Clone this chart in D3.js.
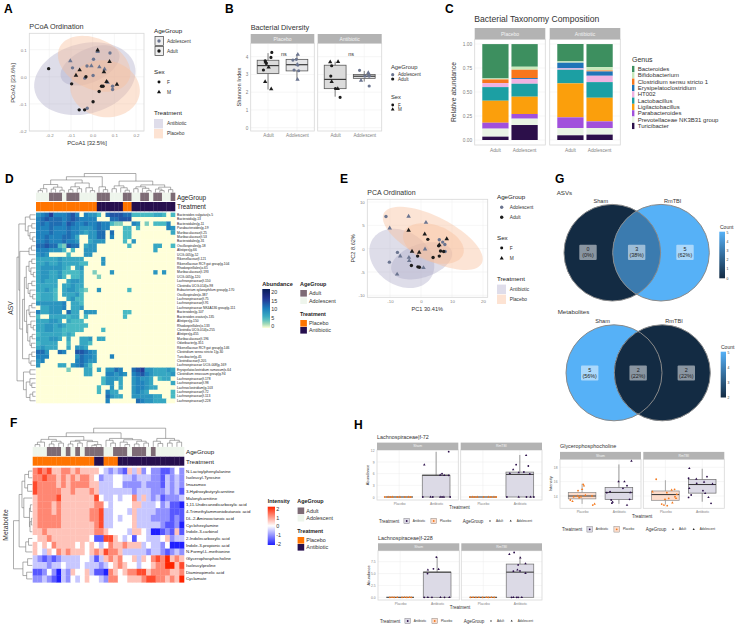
<!DOCTYPE html>
<html>
<head>
<meta charset="utf-8">
<script src="https://cdn.jsdelivr.net/npm/d3@7"></script>
<style>
  html, body { margin: 0; padding: 0; background: #fff; }
  svg { display: block; }
  text { font-family: "Liberation Sans", Arial, sans-serif; }
</style>
</head>
<body>
<div id="content"></div>
<script>
// ---- A: PCoA, values [x, y]
var pcoaAdultF = [[-.203,.03],[-.097,-.026],[-.031,0],[.03,-.054],[.041,-.035],[.048,-.035],[.002,-.092],[-.062,-.122],[-.037,-.122]];
var pcoaAdultM = [[-.06,.025],[-.077,.005],[.023,.098],[.078,.056],[.052,.018],[.064,-.018],[.112,-.028]];
var pcoaAdoF = [[-.093,.033],[-.026,.04],[.004,.065],[.08,.088],[.002,.005],[-.036,-.005],[-.025,-.116],[.092,-.035],[.092,-.047]];
var pcoaAdoM = [[-.103,.059],[-.006,.04],[.023,.093],[.031,.036],[.055,.028],[.069,-.021]];
// ellipses: centre x, y, then the two semi axis vectors
var pcoaEllipseAb = [[-.036,-.007,.230,.049,.042,-.125],[-.012,.042,.132,.049,.0325,-.056]];
var pcoaEllipsePl = [[.007,.048,.160,-.060,-.049,-.084],[.057,-.044,.159,-.022,-.023,-.103]];

// ---- B: Shannon index
var shannonCats = ['Adult','Adolescent'];
var shannonPlacebo = [[3.05,3.5,3.8,2.15,4.2],[3.2,3.55,3.85,2.7,4.15]]; // q1 med q3 low high
var shannonAntibiotic = [[2.2,2.72,3.52,1.75,3.72],[2.78,2.9,3.0,2.6,3.2]];
var bPlAdultF = [[1.13,4.24],[1.10,3.96],[.90,3.77],[.94,3.62],[.84,3.25]];
var bPlAdultM = [[.90,2.59],[1.11,2.18],[1.02,3.4],[.92,3.7]];
var bPlAdoF = [[1.86,3.81],[1.98,3.85],[1.9,3.25],[2.06,3.21],[2.03,3.53]];
var bPlAdoM = [[2.03,4.13],[2.02,2.72],[2.01,3.56]];
var bAbAdultF = [[.88,3.49],[.85,2.91],[1.01,2.21],[1.17,1.71]];
var bAbAdultM = [[.83,3.7],[1.1,3.71],[.88,2.59],[1.09,2.2]];
var bAbAdoF = [[1.84,3.23],[2.17,2.91],[2.17,2.35],[2.02,2.91]];
var bAbAdoM = [[1.89,2.66],[2.14,3.1],[2.16,2.96]];

// ---- C: genus composition, same order as the legend
var genera = ['Bacteroides','Bifidobacterium','Clostridium sensu stricto 1','Erysipelatoclostridium','HT002','Lactobacillus','Ligilactobacillus','Parabacteroides','Prevotellaceae NK3B31 group','Turicibacter'];
var genusColors = ['#3d8f5f','#c8e9bb','#f8761c','#1f74b8','#efb2e2','#1c9fa3','#fb9f0c','#a150dc','#e9f4e5','#2c0f4a'];
var placeboAdult = [.358,.01,.038,0,.042,.142,.229,.062,.083,.035];
var placeboAdolescent = [.236,.031,.087,.01,.049,.135,.18,.049,.066,.156];
var antibioticAdult = [.181,.014,0,.059,.014,.142,.354,.111,.076,.049];
var antibioticAdolescent = [.24,.035,.01,.045,.066,.163,.246,.069,.069,.056];

// ---- D: ASV heatmap, one digit per cell, abundance is digit x 1.6
var asvLabels = ['Bacteroides vulgatus|s-5','Bacteroidia|g-13','Bacteroidales|g-11','Parabacteroides|g-19','Muribaculaceae|f-25','Muribaculaceae|f-53','Bacteroidales|g-31','Oscillospirales|g-18','Alistipes|g-66','UCG-005|g-52','Rikenellaceae|f-121','Rikenellaceae RC9 gut group|g-104','Rhodospirillales|o-65','Muribaculaceae|f-193','UCG-005|g-120','Lachnospiraceae|f-150','Clostridia UCG-014|o-98','Eubacterium xylanophilum group|g-170','Oscillospirales|o-387','Lachnospiraceae|f-75','Lachnospiraceae|f-91','Lachnospiraceae NK4A136 group|g-111','Bacteroides|g-107','Bacteroides ovatus|s-135','Alistipes|g-150','Rhodospirillales|o-133','Clostridia UCG-014|o-255','Alistipes|g-455','Muribaculaceae|f-196','Odoribacter|g-351','Rikenellaceae RC9 gut group|g-146','Clostridium sensu stricto 1|g-30','Turicibacter|g-45','Clostridiaceae|f-205','Lachnospiraceae UCG-008|g-169','Erysipelatoclostridium ramosum|s-64','Clostridium innocuum group|g-94','Lachnospiraceae|f-178','Lachnospiraceae|f-98','Lachnoclostridium|g-103','Lachnospiraceae|f-72','Lachnospiraceae|f-113','Lachnospiraceae|f-228'];
var asvRows = [
'56796667860655307888773333344303',
'6787776787666600077888',
'67677768766766766322006502033360',
'66676667665556766000330300000065',
'66676667665455770700330000000004',
'6676667764005577060033',
'66766676650045550000305',
'77877328770455000000030000044003',
'66655530300555000000000000040000',
'56500003000550000000000000000000',
'444445444440000500000000',
'4454454444330005',
'45555543045',
'45544533334002000500000000050500',
'45544530334000200000',
'45444004554',
'44444044544',
'44543045543200500000030',
'34443044453',
'34443004533',
'55555560443',
'04455560445',
'64455507440555000000330',
'30044443440300000000300',
'44455404333',
'445545433333',
'44554433333000030',
'344444343',
'4445540400445044',
'3444400300443',
'454440040554',
'77500760088765',
'666000000576650006',
'56000000067655',
'5000044056753',
'00000002000440405576007895544454',
'00000000000440006656506786544445',
'00000000000000035554005655403440',
'00000000000000035504005665400004',
'00000000000000300504005665440000',
'00000000000000306440005654000003',
'00000000000000007544005555544003',
'00000000000000006000000765544400'
];
var asvAge = [0,0,0,1,1,1,0,1,1,1,0,0,0,0,1,1,1,0,0,0,1,1,0,0,1,1,0,1,1,0,0,1]; // 1 = Adult
var asvTreat = [0,0,0,0,0,0,0,0,0,0,0,0,0,0,1,1,1,1,1,1,0,0,1,1,1,1,1,1,1,1,1,1]; // 1 = Antibiotic
var asvColTree = [1,[.83,[.66,[.42,[.2,[.1,0,0],0],[.28,[.18,0,0],[.12,0,0]]],[.5,[.3,[.15,0,0],[.2,0,0]],[.25,0,[.1,0,0]]]],[.3,0,[.15,0,0]]],
  [.6,[.35,[.2,0,0],[.25,0,[.12,0,0]]],[.4,[.3,[.2,0,0],[.22,0,[.1,0,0]]],[.28,[.18,0,[.1,0,0]],[.15,0,0]]]]];
var asvRowTree = [1,[.9,[.55,[.3,0,0],[.4,[.2,0,0],[.3,0,[.15,0,0]]]],
   [.85,[.35,[.22,0,0],0],[.7,[.6,[.5,[.35,[.2,0,0],[.25,0,[.12,0,0]]],[.4,[.2,0,0],[.3,0,[.15,0,0]]]],
     [.48,[.35,[.2,0,0],[.3,0,0]],[.42,[.25,0,[.12,0,0]],[.3,[.18,0,0],[.22,0,0]]]]],[.35,[.2,0,0],[.25,0,0]]]]],
  [.65,[.3,0,0],[.5,[.3,0,[.2,0,0]],[.3,[.15,0,0],0]]]];
var abundanceTicks = [0,5,10,15,20];

// ---- E: PCA
var pcaAdultF = [[2.2,2],[5.7,.6],[6.3,-.5],[7.3,-.6],[3.9,-1.9],[5.9,-1.6],[-1.1,-1.6],[-3.1,-3.6],[-1,-3.9],[-.5,-4]];
var pcaAdultM = [[-4,3.9],[1.2,3.1],[8.3,2.1],[-2.9,-.6],[-.6,-.8],[5.9,.8]];
var pcaAdoF = [[-11.3,6.9],[-7.6,-.8],[-10.2,-2.9],[5.9,1.9],[7,1.4],[7.7,.9],[7.8,-.6]];
var pcaAdoM = [[-4,6.9],[1.6,5.6],[-10.1,4.4],[-6.7,-1.6],[-3.9,-1.9],[-3.8,-2.6],[-7.7,-5.5],[.8,-4.1],[1.3,-.1]];
var pcaEllipseAb = [[-6.2,-2.1,9.25,-4.3,-4.94,-4.68],[.2,-2.6,9.7,2.1,1.66,-3.4]];
var pcaEllipsePl = [[3.8,2.2,15.8,-5.35,-3.17,-4.14],[4,1.1,9.6,-2.32,-2.02,-3.69]];

// ---- F: metabolite heatmap, digit 4 = 0
var metaboliteLabels = ['N-Lactoylphenylalanine','Isoleucyl-Tyrosine','Imazamox','3-Hydroxybutyrylcarnitine','Malonylcarnitine','1,11-Undecanedicarboxylic acid','4-Trimethylammoniobutanoic acid','DL-2-Aminooctanoic acid','Cyclohexylamine','Indole-3-carbinol','2-Indolecarboxylic acid','Indole-3-propionic acid','N-Formyl-L-methionine','Glycerophosphocholine','Isoleucylproline','Diaminopimelic acid','Cyclamate'];
var metaboliteRows = [
'67675566'+'56555543'+'23215352'+'42211242',
'66766565'+'65665423'+'34433233'+'32213232',
'76666565'+'66665533'+'34422223'+'22213232',
'76666655'+'65556533'+'33333233'+'32223231',
'56666755'+'55555743'+'34344635'+'32312223',
'56665655'+'55555664'+'34444553'+'33423110',
'56665655'+'55556673'+'34443533'+'33222111',
'56666655'+'55556673'+'34344533'+'32222121',
'56666655'+'55555673'+'34444533'+'33321120',
'55655555'+'55555665'+'44443554'+'30012151',
'45565555'+'55554117'+'75434144'+'33345233',
'54546555'+'54545434'+'65565553'+'43324000',
'54354656'+'55545657'+'66533333'+'23321232',
'32121233'+'33443135'+'65644535'+'46768565',
'33323343'+'33433323'+'45654434'+'45668857',
'11242032'+'54453110'+'65456677'+'56666556',
'22321032'+'43454432'+'66445556'+'77665658'
];
var metAge = [0,0,0,1,1,1,0,1,0,1,0,1,1,1,1,0,0,1,1,1,0,1,1,1,0,1,0,0,0,0,0,0];
var metTreat = [0,0,0,0,0,0,0,0,0,0,0,0,0,1,1,0,0,0,1,1,1,1,1,1,1,1,1,1,1,1,1,1];
var metColTree = [1,[.75,[.55,[.4,[.25,[.12,0,0],0],[.3,[.15,0,0],[.2,0,0]]],[.35,[.3,[.15,0,0],[.2,0,0]],[.28,0,[.12,[.08,0,0],0]]]],
   [.45,[.35,0,[.2,0,0]],[.38,[.25,0,[.12,0,0]],[.3,[.15,0,0],[.2,0,0]]]]],
  [.45,[.3,0,[.18,0,0]],[.35,[.2,0,0],[.25,0,0]]]];
var metRowTree = [1,[.7,[.55,[.4,[.2,0,0],[.25,0,0]],[.45,0,[.15,[.1,0,0],[.12,[.05,0,0],0]]]],[.35,[.2,0,0],0]],[.5,[.25,0,0],[.3,0,0]]];
var intensityTicks = [-2,-1,0,1,2];

// ---- G: venn counts [Sham only, shared, RmTBI only]
var vennSets = ['Sham','RmTBI'];
var asvCounts = [0,3,5];
var asvPercents = ['0%','38%','62%'];
var metCounts = [5,2,2];
var metPercents = ['56%','22%','22%'];

// ---- H: box stats q1 med q3 low high, then points [x, y]
var hCats = ['Placebo','Antibiotic'];
var f72Sham = [[0,0,0,0,0],[0,5.6,5.6,0,11.6]];
var f72Rm = [[0,0,0,0,0],[0,5.8,6.4,0,10.8]];
var f72ShamPl = [.61,.7,.76,.82,.95,1.02,1.15,1.25,1.31];
var f72RmPl = [.65,.72,.78,.85,1.02,1.15,1.22,1.3,1.36];
var f72ShamAb = [[1.64,0],[1.85,0],[1.91,0],[2.11,0],[2.16,0],[2.21,0],[2.38,0],[1.68,8.3],[2.34,11.65],[2.11,5.66],[2.16,6],[2.22,5.57],[2.34,5.57]];
var f72RmAb = [[1.65,0],[1.97,0],[2.18,0],[2.29,0],[2.38,0],[1.82,7.03],[1.9,8.31],[1.97,6.26],[2.11,6.43],[2.17,10.7],[2.23,7.97],[1.73,6.08],[2.27,5.91]];
var f228Sham = [[0,0,0,0,0],[0,5.3,5.3,0,8.5]];
var f228Rm = [[0,0,0,0,0],[0,5.3,7,0,8.6]];
var f228ShamPl = [.72,.78,.84,.92,1.05,1.12,1.18,1.25,1.3];
var f228RmPl = [.65,.72,.8,.88,.98,1.08,1.14,1.22,1.3];
var f228ShamAb = [[1.65,0],[1.75,0],[1.86,0],[2.09,0],[2.2,0],[2.33,0],[1.74,5],[1.75,5.77],[1.9,5.99],[2.04,5.92],[1.98,8.45]];
var f228RmAb = [[1.77,0],[1.82,0],[1.91,0],[2.05,0],[1.95,0],[1.71,9.08],[1.84,9.44],[2.01,8.31],[1.95,6.83],[2.15,7.11],[1.82,5.5],[1.93,5.77],[2,5.56],[2.15,5.07]];
var gpcSham = [[13.6,14,14.5,12.9,15.7],[13.5,14.5,15.2,12.9,18.4]];
var gpcRm = [[13.4,14.2,14.7,12.8,16.2],[14.4,15.6,16.3,13.2,17.8]];
var gpcShamPl = [[.68,13.44],[.74,13.26],[.77,13.9],[.88,14],[.89,14.74],[1,14.93],[1.03,15.63],[1.05,15.44],[.92,13.77],[.97,13.9],[1.27,14],[1.34,12.88],[1.29,12.74],[1.09,14.1]];
var gpcShamAb = [[1.79,13.44],[1.83,13.16],[1.76,14.6],[1.99,16],[2.11,15.07],[2.15,16],[2.22,15.44],[2.34,18.88],[2.29,13.53],[2.22,12.74],[1.67,14.47],[2.31,14.47],[1.81,13]];
var gpcRmPl = [[.75,16.33],[.65,14.6],[.9,12.88],[.96,12.74],[1.05,12.65],[.99,13.53],[1.09,13.67],[1.19,13.07],[1.25,14.93],[1.17,14.84],[1.26,13.9],[1.31,14.23],[1.04,14.47],[1.29,13.67]];
var gpcRmAb = [[1.63,13.8],[1.65,17.86],[1.63,16.47],[1.65,15.07],[1.7,14.14],[1.84,16.37],[1.85,15.77],[2.05,15.95],[2.02,14.74],[2.08,14.37],[2.13,16.7],[2.17,13.81],[2.24,12.98],[2.28,15.67]];

// ---- colours
var adultCol = '#1c1c1c', adoCol = '#6b7590';
var abFill = '#a9a5c4', plFill = '#f8bf9c';
var ageHeat = ['#eef5ec','#7d6b75'], treatHeat = ['#ff7400','#260f4e'];
var stripGray = '#b3b3b3', gridCol = '#ececec', borderCol = '#d8d8d8', tickCol = '#7f7f7f';

var svg = d3.select('#content').append('svg').attr('width', 737).attr('height', 627);
var defs = svg.append('defs');

function txt(x, y, s, size, o) {
  o = o || {};
  var t = svg.append('text').attr('x', x).attr('y', y).text(s)
    .attr('font-size', size).attr('fill', o.fill || '#222')
    .attr('dominant-baseline', 'central')
    .attr('text-anchor', o.anchor || 'start');
  if (o.bold) t.attr('font-weight', 'bold');
  if (o.rot) t.attr('transform', 'rotate(-90 ' + x + ' ' + y + ')');
  return t;
}
function sym(x, y, sex, col, size) {
  svg.append('path').attr('d', d3.symbol(sex ? d3.symbolTriangle : d3.symbolCircle, size)())
    .attr('transform', 'translate(' + x + ',' + y + ')').attr('fill', col);
}
function fmtTick(f) { return function(d) { return d3.format(f)(d).replace('\u2212', '-'); }; }
// stretch a scale so that it runs out to the panel edges
function toPanel(scale, a, b) {
  var d = [scale.invert(a), scale.invert(b)];
  return scale.domain(d).range([a, b]);
}

// panel background, grid lines and the two axes
function panel(x, y, xTicks, yTicks, xFmt, yFmt, fs) {
  var g = svg.append('g');
  var xr = x.range(), yr = y.range();
  yTicks.forEach(function(t) { g.append('line').attr('x1', xr[0]).attr('x2', xr[1]).attr('y1', y(t)).attr('y2', y(t)).attr('stroke', gridCol).attr('stroke-width', .5); });
  xTicks.forEach(function(t) { g.append('line').attr('y1', yr[0]).attr('y2', yr[1]).attr('x1', x(t)).attr('x2', x(t)).attr('stroke', gridCol).attr('stroke-width', .5); });
  g.append('rect').attr('x', xr[0]).attr('y', yr[1]).attr('width', xr[1] - xr[0]).attr('height', yr[0] - yr[1])
    .attr('fill', 'none').attr('stroke', borderCol).attr('stroke-width', .8);
  var ax = svg.append('g').attr('transform', 'translate(0,' + yr[0] + ')')
    .call(d3.axisBottom(x).tickValues(xTicks).tickSize(0).tickPadding(2.5).tickFormat(xFmt));
  var ay = svg.append('g').attr('transform', 'translate(' + xr[0] + ',0)')
    .call(d3.axisLeft(y).tickValues(yTicks).tickSize(0).tickPadding(2.5).tickFormat(yFmt));
  [ax, ay].forEach(function(a, i) {
    a.select('.domain').remove();
    a.selectAll('text').attr('font-size', fs).attr('fill', tickCol).attr('font-family', '"Liberation Sans"');
    if (i == 1 && yFmt === null) a.selectAll('text').remove();
  });
}
function strip(x0, x1, y0, y1, s, fs) {
  svg.append('rect').attr('x', x0).attr('y', y0).attr('width', x1 - x0).attr('height', y1 - y0).attr('fill', stripGray);
  txt((x0 + x1) / 2, (y0 + y1) / 2, s, fs, { fill: '#f4f4f4', anchor: 'middle' });
}
function ellipse(x, y, e, fill, op) {
  var line = d3.line().x(function(t) { return x(e[0] + e[2] * Math.cos(t) + e[4] * Math.sin(t)); })
    .y(function(t) { return y(e[1] + e[3] * Math.cos(t) + e[5] * Math.sin(t)); }).curve(d3.curveLinearClosed);
  svg.append('path').attr('d', line(d3.range(0, 6.28, .08))).attr('fill', fill).attr('fill-opacity', op);
}
function dots(pts, x, y, sex, col, size) {
  pts.forEach(function(p) { sym(x(p[0]), y(p[1]), sex, col, size); });
}
function box(x, y, cat, s, fill, stroke, sw) {
  var w = .375;
  svg.append('line').attr('x1', x(cat)).attr('x2', x(cat)).attr('y1', y(s[3])).attr('y2', y(s[4])).attr('stroke', stroke).attr('stroke-width', sw);
  svg.append('rect').attr('x', x(cat - w)).attr('width', x(cat + w) - x(cat - w)).attr('y', y(s[2])).attr('height', y(s[0]) - y(s[2]))
    .attr('fill', fill).attr('stroke', stroke).attr('stroke-width', sw);
  svg.append('line').attr('x1', x(cat - w)).attr('x2', x(cat + w)).attr('y1', y(s[1])).attr('y2', y(s[1])).attr('stroke', '#3a3a3a').attr('stroke-width', sw * 1.5);
}
// ordination legend shared by A and E
function ordLegend(x, xKey, xText, ys, framed) {
  txt(x, ys[0], 'AgeGroup', 6.2);
  [[ys[1], 'Adolescent', adoCol], [ys[2], 'Adult', adultCol]].forEach(function(r) {
    if (framed) svg.append('rect').attr('x', xKey - 4).attr('y', r[0] - 4.5).attr('width', 8.4).attr('height', 9).attr('fill', '#eee').attr('stroke', '#444').attr('stroke-width', .7);
    sym(xKey, r[0], 0, r[2], 9);
    txt(xText, r[0], r[1], 4.8, { fill: '#333' });
  });
  txt(x, ys[3], 'Sex', 6.2);
  sym(xKey, ys[4], 0, '#111', 7); txt(xText, ys[4], 'F', 4.8, { fill: '#333' });
  sym(xKey, ys[5], 1, '#111', 7); txt(xText, ys[5], 'M', 4.8, { fill: '#333' });
  txt(x, ys[6], 'Treatment', 6.2);
  [[ys[7], 'Antibiotic', '#dfddea'], [ys[8], 'Placebo', '#fde3d3']].forEach(function(r) {
    svg.append('rect').attr('x', x).attr('y', r[0] - 4.7).attr('width', 9).attr('height', 9.4).attr('fill', r[2]);
    txt(xText, r[0], r[1], 4.8, { fill: '#333' });
  });
}
// dendrogram from nested [height, left, right]; 0 is a leaf
function dendro(tree, band, level, horizontal) {
  var root = d3.hierarchy(tree, function(d) { return Array.isArray(d) ? d.slice(1) : null; });
  root.leaves().forEach(function(l, i) { l.pos = band(i) + band.bandwidth() / 2; });
  root.eachAfter(function(n) {
    if (n.children) {
      n.pos = (n.children[0].pos + n.children[1].pos) / 2;
      n.h = n.data[0];
    } else n.h = 0;
  });
  var pathD = '';
  function pt(p, h) { return horizontal ? level(h) + ',' + p : p + ',' + level(h); }
  root.descendants().forEach(function(n) {
    if (!n.children) return;
    var a = n.children[0], b = n.children[1];
    pathD += 'M' + pt(a.pos, a.h) + 'L' + pt(a.pos, n.h) + 'L' + pt(b.pos, n.h) + 'L' + pt(b.pos, b.h);
  });
  svg.append('path').attr('d', pathD).attr('fill', 'none').attr('stroke', '#6a6a6a').attr('stroke-width', .55);
}
function heatmap(rows, x, y, color, val) {
  rows.forEach(function(r, i) {
    r.padEnd(x.domain().length, '0').split('').slice(0, x.domain().length).forEach(function(c, j) {
      svg.append('rect').attr('x', x(j)).attr('y', y(i)).attr('width', x.bandwidth() + .3).attr('height', y.bandwidth() + .3)
        .attr('fill', color(val(+c)));
    });
  });
}
function annot(vals, x, y0, y1, cols) {
  vals.forEach(function(v, j) {
    svg.append('rect').attr('x', x(j)).attr('y', y0).attr('width', x.bandwidth() + .3).attr('height', y1 - y0).attr('fill', cols[v]);
  });
}
// vertical colour bar drawn from a scale
function colorbar(id, scale, ticks, x0, x1, y0, y1, tickY, fs, tickX) {
  var lg = defs.append('linearGradient').attr('id', id).attr('x1', 0).attr('x2', 0).attr('y1', 1).attr('y2', 0);
  var dom = d3.extent(scale.domain());
  d3.range(0, 11).forEach(function(i) {
    lg.append('stop').attr('offset', (i * 10) + '%').attr('stop-color', scale(dom[0] + (dom[1] - dom[0]) * i / 10));
  });
  svg.append('rect').attr('x', x0).attr('y', y0).attr('width', x1 - x0).attr('height', y1 - y0).attr('fill', 'url(#' + id + ')');
  var ax = svg.append('g').attr('transform', 'translate(' + tickX + ',0)').call(d3.axisRight(tickY).tickValues(ticks).tickSize(0).tickPadding(0).tickFormat(function(d) { return String(d); }));
  ax.select('.domain').remove();
  ax.selectAll('text').attr('font-size', fs).attr('fill', '#333').attr('font-family', '"Liberation Sans"');
}
function heatLegend(x, titleY, keyYs, treatTitleY, treatYs, fs) {
  txt(x, titleY, 'AgeGroup', fs, { bold: true });
  [['Adult', 1], ['Adolescent', 0]].forEach(function(r, i) {
    svg.append('rect').attr('x', x + .3).attr('y', keyYs[i] - 3.3).attr('width', 6.6).attr('height', 6.6).attr('fill', ageHeat[r[1]]);
    txt(x + 9, keyYs[i], r[0], fs, { fill: '#333' });
  });
  txt(x, treatTitleY, 'Treatment', fs, { bold: true });
  [['Placebo', 0], ['Antibiotic', 1]].forEach(function(r, i) {
    svg.append('rect').attr('x', x + .3).attr('y', treatYs[i] - 3.3).attr('width', 6.6).attr('height', 6.6).attr('fill', treatHeat[r[1]]);
    txt(x + 9, treatYs[i], r[0], fs, { fill: '#333' });
  });
}

// panel letters
[['A',4,9],['B',225,9],['C',445,9],['D',5,179],['E',340,179],['G',555,179],['F',10,423],['H',354,425]].forEach(function(l) {
  txt(l[1], l[2], l[0], 12, { bold: true, fill: '#000' });
});

// ===== A
(function() {
  var x = toPanel(d3.scaleLinear().domain([-.2, .2]).range([49.3, 136]), 29.3, 144);
  var y = toPanel(d3.scaleLinear().domain([-.2, .1]).range([131, 49.7]), 131, 33.3);
  panel(x, y, [-.2,-.1,0,.1,.2], [-.2,-.1,0,.1], fmtTick('.1f'), fmtTick('.1f'), 4.4);
  pcoaEllipseAb.forEach(function(e) { ellipse(x, y, e, abFill, .38); });
  pcoaEllipsePl.forEach(function(e) { ellipse(x, y, e, plFill, .42); });
  dots(pcoaAdoF, x, y, 0, adoCol, 9); dots(pcoaAdoM, x, y, 1, adoCol, 9);
  dots(pcoaAdultF, x, y, 0, adultCol, 9); dots(pcoaAdultM, x, y, 1, adultCol, 9);
  txt(29.3, 26.7, 'PCoA Ordination', 7.3, { fill: '#333' });
  txt(87, 143.3, 'PCoA1  [32.5%]', 5.8, { anchor: 'middle', fill: '#333' });
  txt(13, 83, 'PCoA2  [23.6%]', 5.8, { anchor: 'middle', rot: true, fill: '#333' });
  ordLegend(154, 159, 167, [30.3,41,51,71.7,82,92,112.7,123.7,133.7], true);
})();

// ===== B
(function() {
  var y = toPanel(d3.scaleLinear().domain([0, 4]).range([127.7, 56.7]), 131, 43.3);
  var facets = [[250.7, 314.3, 'Placebo', shannonPlacebo, [bPlAdoF,bPlAdoM,bPlAdultF,bPlAdultM]],
                [317.7, 381.7, 'Antibiotic', shannonAntibiotic, [bAbAdoF,bAbAdoM,bAbAdultF,bAbAdultM]]];
  facets.forEach(function(f, i) {
    var x = d3.scaleLinear().domain([.4, 2.6]).range([f[0], f[1]]);
    panel(x, y, [1, 2], [0,1,2,3,4], function(d) { return shannonCats[d - 1]; }, i ? null : fmtTick('d'), 4.6);
    strip(f[0], f[1], 34, 43.3, f[2], 5);
    box(x, y, 1, f[3][0], '#dbdbdb', '#5a5a5a', .8);
    box(x, y, 2, f[3][1], '#e6e6e8', '#5a5a5a', .8);
    dots(f[4][0], x, y, 0, adoCol, 8); dots(f[4][1], x, y, 1, adoCol, 8);
    dots(f[4][2], x, y, 0, adultCol, 8); dots(f[4][3], x, y, 1, adultCol, 8);
    txt(x(1.55), y(4.17), 'ns', 5.5, { anchor: 'middle', fill: '#333' });
  });
  txt(250.7, 27, 'Bacterial Diversity', 7.3, { fill: '#333' });
  txt(239, 87, 'Shannon Index', 5.8, { anchor: 'middle', rot: true, fill: '#333' });
  txt(391, 66.7, 'AgeGroup', 5.8, { fill: '#333' });
  sym(392.7, 74.7, 0, adoCol, 8); txt(398, 74.7, 'Adolescent', 4.6, { fill: '#333' });
  sym(392.7, 79, 0, adultCol, 8); txt(398, 79, 'Adult', 4.6, { fill: '#333' });
  txt(391, 96.7, 'Sex', 5.8, { fill: '#333' });
  sym(392.7, 105, 0, '#111', 6); txt(398, 105, 'F', 4.6, { fill: '#333' });
  sym(392.7, 109.3, 1, '#111', 6); txt(398, 109.3, 'M', 4.6, { fill: '#333' });
})();

// ===== C
(function() {
  var y = d3.scaleLinear().domain([0, 1]).range([140, 44]);
  var stack = d3.stack().keys(d3.range(genera.length)).order(d3.stackOrderReverse);
  var facets = [[474.7, 545.3, 'Placebo', [placeboAdult, placeboAdolescent]], [549.7, 620.3, 'Antibiotic', [antibioticAdult, antibioticAdolescent]]];
  var y2 = toPanel(y.copy(), 145, 39.3);
  facets.forEach(function(f, i) {
    var x = d3.scaleBand().domain(shannonCats).range([f[0], f[1]]).paddingInner(.1).paddingOuter(.26);
    panel(x, y2, [], [0,.25,.5,.75,1], null, i ? null : fmtTick('.2f'), 4.8);
    stack(f[3]).forEach(function(layer) {
      layer.forEach(function(d, k) {
        svg.append('rect').attr('x', x(shannonCats[k])).attr('width', x.bandwidth())
          .attr('y', y(d[1])).attr('height', y(d[0]) - y(d[1])).attr('fill', genusColors[layer.key]);
      });
    });
    shannonCats.forEach(function(c) { txt(x(c) + x.bandwidth() / 2, 150.7, c, 4.8, { anchor: 'middle', fill: tickCol }); });
    strip(f[0], f[1], 28, 39.3, f[2], 5);
  });
  txt(474.3, 19.3, 'Bacterial Taxonomy Composition', 8.6, { fill: '#333' });
  txt(453.3, 92, 'Relative abundance', 6.8, { anchor: 'middle', rot: true, fill: '#333' });
  txt(632, 59, 'Genus', 7, { fill: '#333' });
  genera.forEach(function(g, i) {
    var yy = 69 + i * 6.33;
    svg.append('rect').attr('x', 632).attr('y', yy - 3.1).attr('width', 2.4).attr('height', 6.2).attr('fill', genusColors[i]);
    txt(637.7, yy, g, 6, { fill: '#333' });
  });
})();

// ===== D
(function() {
  var n = asvRows.length;
  var x = d3.scaleBand().domain(d3.range(32)).range([36, 175]);
  var y = d3.scaleBand().domain(d3.range(n)).range([212.6, 403]);
  var color = d3.scaleLinear().domain([0,1,5,10,15,20]).range(['#ffffd9','#c7e9b4','#41b6c4','#1d7fbc','#253494','#081d58']);
  heatmap(asvRows, x, y, color, function(c) { return c * 1.6; });
  annot(asvAge, x, 192.7, 201, ageHeat);
  annot(asvTreat, x, 202, 211.3, treatHeat);
  dendro(asvColTree, x, d3.scaleLinear().domain([0, 1]).range([192.5, 173.5]), false);
  dendro(asvRowTree, y, d3.scaleLinear().domain([0, 1]).range([35.5, 17]), true);
  asvLabels.forEach(function(l, i) { txt(177, y(i) + y.bandwidth() / 2, l, 3.3, { fill: '#222' }); });
  txt(177, 197.3, 'AgeGroup', 6.4); txt(177, 206.7, 'Treatment', 6.4);
  txt(10, 308, 'ASV', 6.8, { anchor: 'middle', rot: true, fill: '#333' });
  txt(262.3, 284.3, 'Abundance', 5.6, { bold: true });
  colorbar('gradAbund', color, abundanceTicks, 262.3, 270, 289, 328,
    d3.scaleLinear().domain([0, 20]).range([326, 291.7]), 5.4, 271.3);
  heatLegend(300, 284.3, [293.3, 300.7], 313.7, [323.3, 330.3], 5.4);
})();

// ===== E
(function() {
  var x = toPanel(d3.scaleLinear().domain([-10, 20]).range([390, 483]), 367.3, 487.7);
  var y = toPanel(d3.scaleLinear().domain([-10, 10]).range([295.3, 202]), 297.3, 199.3);
  panel(x, y, [-10,0,10,20], [-10,-5,0,5,10], fmtTick('d'), fmtTick('d'), 4.4);
  pcaEllipseAb.forEach(function(e) { ellipse(x, y, e, abFill, .38); });
  pcaEllipsePl.forEach(function(e) { ellipse(x, y, e, plFill, .42); });
  dots(pcaAdoF, x, y, 0, adoCol, 9); dots(pcaAdoM, x, y, 1, adoCol, 9);
  dots(pcaAdultF, x, y, 0, adultCol, 9); dots(pcaAdultM, x, y, 1, adultCol, 9);
  txt(367.3, 192.7, 'PCA Ordination', 7, { fill: '#333' });
  txt(427.3, 309, 'PC1 30.41%', 5.6, { anchor: 'middle', fill: '#333' });
  txt(352.7, 248.3, 'PC2 8.62%', 5.6, { anchor: 'middle', rot: true, fill: '#333' });
  ordLegend(497, 501.7, 509.7, [196.3,207.3,217.3,237.3,248,258.3,278.3,289.3,299.3], false);
})();

// ===== G
function venn(id, cxL, cxR, cy, r, counts, pcts, labelY, titleY) {
  var color = d3.scaleLinear().domain(d3.extent(counts)).range(['#132b43','#56b1f7']);
  defs.append('clipPath').attr('id', id).append('circle').attr('cx', cxL).attr('cy', cy).attr('r', r);
  svg.append('circle').attr('cx', cxL).attr('cy', cy).attr('r', r).attr('fill', color(counts[0]));
  svg.append('circle').attr('cx', cxR).attr('cy', cy).attr('r', r).attr('fill', color(counts[2]));
  svg.append('circle').attr('cx', cxR).attr('cy', cy).attr('r', r).attr('fill', color(counts[1])).attr('clip-path', 'url(#' + id + ')');
  [cxL, cxR].forEach(function(c) {
    svg.append('circle').attr('cx', c).attr('cy', cy).attr('r', r).attr('fill', 'none').attr('stroke', '#8a8a8a').attr('stroke-width', 1);
  });
  vennSets.forEach(function(s, i) { txt([cxL - 11.5, cxR + 11.7][i], titleY, s, 5.6, { anchor: 'middle', fill: '#333' }); });
  var lx = [cxL - 24.3, (cxL + cxR) / 2, cxR + 24];
  counts.forEach(function(c, i) {
    svg.append('rect').attr('x', lx[i] - 8.7).attr('y', labelY - 7.6).attr('width', 17.4).attr('height', 15.2).attr('rx', 1)
      .attr('fill', '#fff').attr('fill-opacity', .5);
    txt(lx[i], labelY - 3, String(c), 5.4, { anchor: 'middle', fill: '#222' });
    txt(lx[i], labelY + 3, '(' + pcts[i] + ')', 5.4, { anchor: 'middle', fill: '#222' });
  });
  return color;
}
(function() {
  var c1 = venn('clipAsv', 612.3, 661, 252.7, 48.3, asvCounts, asvPercents, 252.3, 200.7);
  txt(556.7, 192.3, 'ASVs', 6.2, { fill: '#333' });
  txt(720, 227.3, 'Count', 5, { fill: '#333' });
  colorbar('gradAsv', c1, [0,1,2,3,4,5], 719.3, 725, 231.7, 278.3,
    d3.scaleLinear().domain([0, 5]).range([278, 232]), 3.4, 726.5);
  var c2 = venn('clipMet', 614, 662.3, 372.8, 48, metCounts, metPercents, 373, 320.7);
  txt(557.7, 311.7, 'Metabolites', 6.2, { fill: '#333' });
  txt(721, 346.7, 'Count', 5, { fill: '#333' });
  colorbar('gradMet', c2, [2,3,4,5], 720.7, 726, 351.7, 397.5,
    d3.scaleLinear().domain([2, 5]).range([397, 352]), 3.4, 727.5);
})();

// ===== F
(function() {
  var n = metaboliteRows.length;
  var x = d3.scaleBand().domain(d3.range(32)).range([32.7, 184]);
  var y = d3.scaleBand().domain(d3.range(n)).range([467.7, 582.3]);
  var color = d3.scaleLinear().domain([-2, 0, 2]).range(['#2020ff','#ffffff','#ff2400']).clamp(true);
  heatmap(metaboliteRows, x, y, color, function(c) { return c > 4 ? (c - 4) * .55 : (c - 4) * .5; });
  annot(metAge, x, 447, 456, ageHeat);
  annot(metTreat, x, 456.7, 465.7, treatHeat);
  dendro(metColTree, x, d3.scaleLinear().domain([0, 1]).range([446.8, 428.2]), false);
  dendro(metRowTree, y, d3.scaleLinear().domain([0, 1]).range([32.3, 13.5]), true);
  metaboliteLabels.forEach(function(l, i) { txt(186, y(i) + y.bandwidth() / 2, l, 4.3, { fill: '#222' }); });
  txt(186, 451.7, 'AgeGroup', 6.2); txt(186, 461.3, 'Treatment', 6.2);
  txt(5.7, 525, 'Metabolite', 6.8, { anchor: 'middle', rot: true, fill: '#333' });
  txt(267.7, 501.3, 'Intensity', 5.4, { bold: true });
  colorbar('gradInt', color, intensityTicks, 267.7, 275, 506.7, 545,
    d3.scaleLinear().domain([-2, 2]).range([543.7, 508.7]), 5.4, 276.2);
  heatLegend(297.3, 501.3, [510.8, 518.2], 531, [540.3, 547.3], 5.4);
})();

// ===== H
function hPanel(o) {
  var y = toPanel(d3.scaleLinear().domain([o.y0, o.y1]).range([o.py0, o.py1]), o.bottom, o.top);
  o.facets.forEach(function(f, i) {
    var x = d3.scaleLinear().domain([.4, 2.6]).range([f.l, f.r]);
    panel(x, y, [1, 2], o.ticks, function(d) { return hCats[d - 1]; }, i ? null : (o.fmt), 3.3);
    strip(f.l, f.r, o.top - 7.4, o.top, f.name, 3.4);
    box(x, y, 1, f.box[0], '#fbdccb', '#8a8a8a', .7);
    box(x, y, 2, f.box[1], '#dcdae6', '#6e6e6e', .7);
    f.pl.forEach(function(p, k) {
      if (Array.isArray(p)) sym(x(p[0]), y(p[1]), k % 2, '#f47a1f', 2.6);
      else sym(x(p), y(0), k % 2, '#f47a1f', 2.6);
    });
    f.ab.forEach(function(p, k) { sym(x(p[0]), y(p[1]), k % 2, '#2c0f4a', 2.6); });
  });
  txt(o.facets[0].l, o.titleY, o.title, 5.4, { fill: '#333' });
  var mid = (o.facets[0].l + o.facets[1].r) / 2;
  txt(mid, o.bottom + 7.7, 'Treatment', 4.5, { anchor: 'middle', fill: '#333' });
  txt(o.facets[0].l - 9.7, (o.bottom + o.top) / 2, o.ylab, 4, { anchor: 'middle', rot: true, fill: '#333' });
  var ly = o.bottom + 21, lx = o.facets[0].l + 2;
  txt(lx, ly, 'Treatment', 4.5, { fill: '#333' });
  [[27.7, 33.7, 'Antibiotic', '#dcdae6', '#2c0f4a'], [54.7, 61, 'Placebo', '#fbdccb', '#f47a1f']].forEach(function(r) {
    svg.append('rect').attr('x', lx + r[0] - 2.8).attr('y', ly - 2.8).attr('width', 5.6).attr('height', 5.6).attr('fill', r[3]).attr('stroke', '#777').attr('stroke-width', .4);
    sym(lx + r[0], ly, 0, r[4], 2.6);
    txt(lx + r[1], ly, r[2], 3.1, { fill: '#333' });
  });
  txt(lx + 83.7, ly, 'AgeGroup', 4.5, { fill: '#333' });
  sym(lx + 111, ly, 0, '#222', 1.6); txt(lx + 117, ly, 'Adult', 3.1, { fill: '#333' });
  sym(lx + 131.7, ly, 1, '#222', 2); txt(lx + 137.7, ly, 'Adolescent', 3.1, { fill: '#333' });
}
hPanel({ title: 'Lachnospiraceae|f-72', titleY: 437.3, ylab: 'Abundance', top: 450, bottom: 500, y0: 0, y1: 12, py0: 497, py1: 450.3,
  ticks: [0,3,6,9,12], fmt: fmtTick('d'),
  facets: [{ l: 377, r: 458.3, name: 'Sham', box: f72Sham, pl: f72ShamPl, ab: f72ShamAb },
           { l: 460.7, r: 542, name: 'RmTBI', box: f72Rm, pl: f72RmPl, ab: f72RmAb }] });
hPanel({ title: 'Lachnospiraceae|f-228', titleY: 537.7, ylab: 'Abundance', top: 550.7, bottom: 600, y0: 0, y1: 7.5, py0: 597.3, py1: 561.7,
  ticks: [0,2.5,5,7.5], fmt: fmtTick('.1f'),
  facets: [{ l: 378, r: 459.3, name: 'Sham', box: f228Sham, pl: f228ShamPl, ab: f228ShamAb },
           { l: 461.3, r: 542, name: 'RmTBI', box: f228Rm, pl: f228RmPl, ab: f228RmAb }] });
hPanel({ title: 'Glycerophosphocholine', titleY: 446.3, ylab: 'Intensity', top: 459.3, bottom: 508.3, y0: 14, y1: 18, py0: 496, py1: 467.3,
  ticks: [14,16,18], fmt: fmtTick('d'),
  facets: [{ l: 560, r: 641, name: 'Sham', box: gpcSham, pl: gpcShamPl, ab: gpcShamAb },
           { l: 643.3, r: 724.3, name: 'RmTBI', box: gpcRm, pl: gpcRmPl, ab: gpcRmAb }] });
</script>
</body>
</html>
